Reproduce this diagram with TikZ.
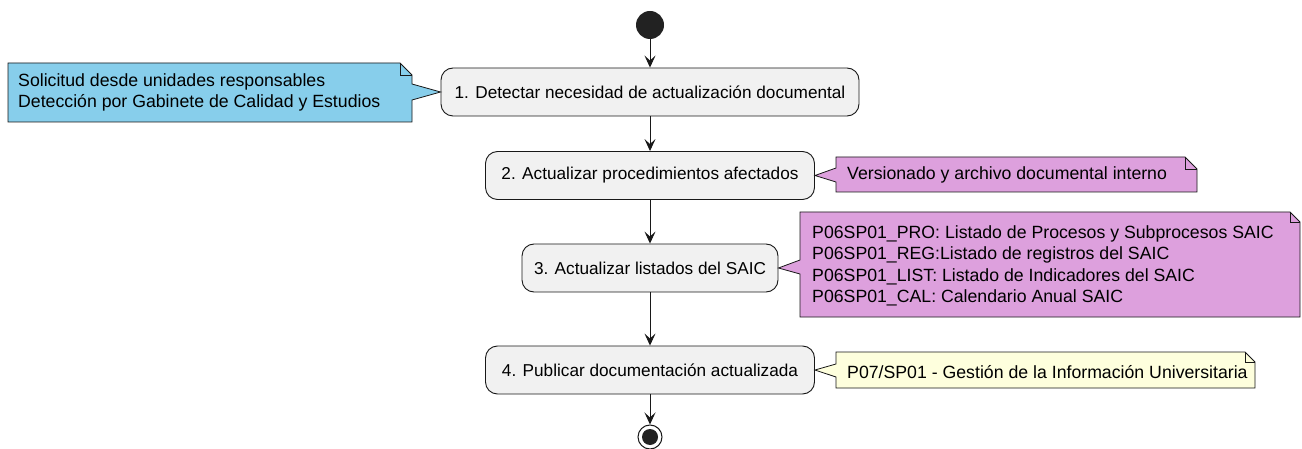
\documentclass[tikz,border=0pt]{standalone}
\usepackage{fontspec}
\setmainfont{Liberation Sans}
\usetikzlibrary{arrows.meta}
\definecolor{actfill}{HTML}{F1F1F1}
\definecolor{lineclr}{HTML}{181818}
\definecolor{startclr}{HTML}{222222}
\definecolor{noteblue}{HTML}{87CEEB}
\definecolor{noteplum}{HTML}{DDA0DD}
\definecolor{noteyellow}{HTML}{FEFFDD}
\tikzset{
  act/.style={draw=lineclr, fill=actfill, rounded corners=12pt, line width=0.9pt,
    minimum height=48pt, inner sep=0pt, font=\fontsize{17.2}{21}\selectfont},
  notetext/.style={align=left, anchor=west, inner sep=0pt, font=\fontsize{17.7}{21.5}\selectfont},
  noteshape/.style={draw=lineclr, line width=0.8pt, line join=miter},
  flow/.style={draw=lineclr, line width=0.9pt, -{Stealth[length=12pt,width=11pt,inset=5pt]}}
}
\begin{document}
\begin{tikzpicture}[x=1pt,y=-1pt]
\useasboundingbox[fill=white] (0,0) rectangle (1302,449);
% start / end
\node[circle, fill=startclr, minimum size=28pt, inner sep=0pt] (start) at (650,25) {};
\node[circle, draw=lineclr, fill=white, line width=1pt, minimum size=24pt, inner sep=0pt] (stop) at (650,437) {};
\fill[startclr] (stop.center) circle[radius=8pt];
% activities
\node[act, minimum width=418pt] (a1) at (650,92) {1. Detectar necesidad de actualización documental};
\node[act, minimum width=329pt] (a2) at (650,175.5) {2. Actualizar procedimientos afectados};
\node[act, minimum width=256pt] (a3) at (650,268) {3. Actualizar listados del SAIC};
\node[act, minimum width=329pt] (a4) at (650,370) {4. Publicar documentación actualizada};
% flows
\draw[flow] (start) -- (a1);
\draw[flow] (a1) -- (a2);
\draw[flow] (a2) -- (a3);
\draw[flow] (a3) -- (a4);
\draw[flow] (a4) -- (stop);
% note 1
\path[noteshape, fill=noteblue] (8,63) -- (400,63) -- (412,75) -- (412,84) -- (a1.west) -- (412,100) -- (412,122) -- (8,122) -- cycle;
\draw[noteshape] (400,63) -- (400,75) -- (412,75);
\node[notetext] (n1) at (18,92.5) {Solicitud desde unidades responsables\\Detección por Gabinete de Calidad y Estudios};
% note 2
\path[noteshape, fill=noteplum] (836,157) -- (1185,157) -- (1197,169) -- (1197,192) -- (836,192) -- (836,182) -- (a2.east) -- (836,168) -- cycle;
\draw[noteshape] (1185,157) -- (1185,169) -- (1197,169);
\node[notetext] (n2) at (847,175) {Versionado y archivo documental interno};
% note 3
\path[noteshape, fill=noteplum] (800,212) -- (1290,212) -- (1300,222) -- (1300,317) -- (800,317) -- (800,274) -- (a3.east) -- (800,260) -- cycle;
\draw[noteshape] (1290,212) -- (1290,222) -- (1300,222);
\node[notetext] (n3) at (812,266) {P06SP01\_PRO: Listado de Procesos y Subprocesos SAIC\\P06SP01\_REG:Listado de registros del SAIC\\P06SP01\_LIST: Listado de Indicadores del SAIC\\P06SP01\_CAL: Calendario Anual SAIC};
% note 4
\path[noteshape, fill=noteyellow] (836,352) -- (1245,352) -- (1255,362) -- (1255,388) -- (836,388) -- (836,377) -- (a4.east) -- (836,364) -- cycle;
\draw[noteshape] (1245,352) -- (1245,362) -- (1255,362);
\node[notetext] (n4) at (847,372) {P07/SP01 - Gestión de la Información Universitaria};
\end{tikzpicture}
\end{document}
